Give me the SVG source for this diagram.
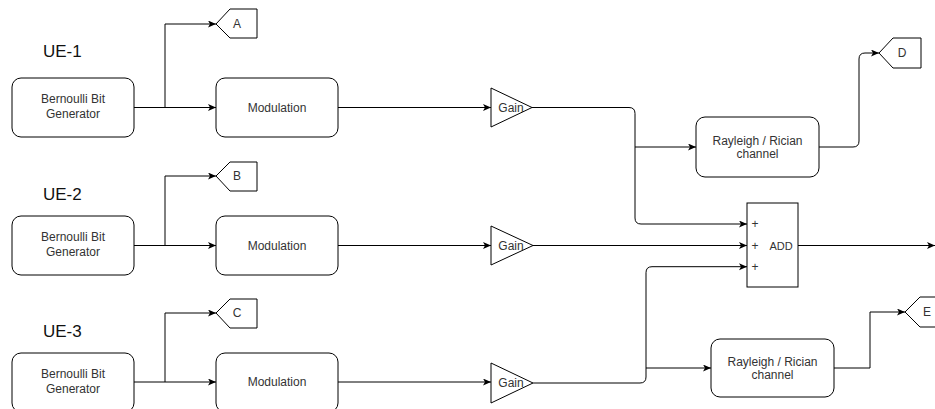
<svg xmlns="http://www.w3.org/2000/svg" width="935" height="409" viewBox="0 0 935 409">
<defs>
<marker id="arr" markerUnits="userSpaceOnUse" markerWidth="9" markerHeight="8" refX="8" refY="3.5" orient="auto">
<path d="M0,0 L8,3.5 L0,7 L2,3.5 z" fill="#000"/>
</marker>
</defs>
<style>
.box{fill:#fff;stroke:#000;stroke-width:1}
.t{font-family:"Liberation Sans",Arial,sans-serif;font-size:12px;fill:#333;text-anchor:middle}
.ue{font-family:"Liberation Sans",Arial,sans-serif;font-size:17px;fill:#111}
.c{fill:none;stroke:#000;stroke-width:1;marker-end:url(#arr)}
.l{fill:none;stroke:#000;stroke-width:1}
</style>
<rect width="935" height="409" fill="#fff"/>
<g id="connectors">
<path class="l" d="M134,107.5 H165"/>
<path class="c" d="M165,107.5 H216"/>
<path class="c" d="M165,107.5 V24 H216"/>
<path class="l" d="M134,245.5 H165"/>
<path class="c" d="M165,245.5 H216"/>
<path class="c" d="M165,245.5 V176 H216"/>
<path class="l" d="M134,382 H165"/>
<path class="c" d="M165,382 H216"/>
<path class="c" d="M165,382 V313 H216"/>
<path class="c" d="M338,107.5 H491"/>
<path class="c" d="M338,245.5 H491"/>
<path class="c" d="M338,382 H491"/>
<path class="c" d="M532,107.5 H629 Q635,107.5 635,113.5 V218 Q635,224 641,224 H747"/>
<path class="c" d="M635,147 H696"/>
<path class="c" d="M533,245.5 H747"/>
<path class="c" d="M533,383 H640 Q646,383 646,377 V272.7 Q646,266.7 652,266.7 H747"/>
<path class="c" d="M646,368 H711"/>
<path class="c" d="M819,147 H853 Q859,147 859,141 V59 Q859,53 865,53 H879"/>
<path class="c" d="M834,368 H870 V312 H905"/>
<path class="c" d="M798,245.5 H935"/>
</g>
<g id="ue1-label"><text class="ue" x="43" y="57">UE-1</text></g>
<g id="ue2-label"><text class="ue" x="43" y="200">UE-2</text></g>
<g id="ue3-label"><text class="ue" x="43" y="337">UE-3</text></g>
<g id="bern1"><rect class="box" x="12" y="78" width="122" height="59" rx="9"/><text class="t" x="73" y="103">Bernoulli Bit</text><text class="t" x="73" y="118">Generator</text></g>
<g id="bern2"><rect class="box" x="12" y="216" width="122" height="59" rx="9"/><text class="t" x="73" y="241">Bernoulli Bit</text><text class="t" x="73" y="256">Generator</text></g>
<g id="bern3"><rect class="box" x="12" y="353" width="122" height="59" rx="9"/><text class="t" x="73" y="378">Bernoulli Bit</text><text class="t" x="73" y="393">Generator</text></g>
<g id="mod1"><rect class="box" x="216" y="78" width="122" height="59" rx="9"/><text class="t" x="277" y="111.5">Modulation</text></g>
<g id="mod2"><rect class="box" x="216" y="216" width="122" height="59" rx="9"/><text class="t" x="277" y="249.5">Modulation</text></g>
<g id="mod3"><rect class="box" x="216" y="353" width="122" height="59" rx="9"/><text class="t" x="277" y="386">Modulation</text></g>
<g id="tagA"><polygon class="box" points="216,24 230,9 257,9 257,38 230,38"/><text class="t" x="237" y="28">A</text></g>
<g id="tagB"><polygon class="box" points="216,176 230,162 257,162 257,191 230,191"/><text class="t" x="237" y="180">B</text></g>
<g id="tagC"><polygon class="box" points="216,313 230,299 257,299 257,328 230,328"/><text class="t" x="237" y="317">C</text></g>
<g id="tagD"><polygon class="box" points="879,53 893,38 921,38 921,68 893,68"/><text class="t" x="902" y="57">D</text></g>
<g id="tagE"><polygon class="box" points="905,312 920,297 940,297 940,327 920,327"/><text class="t" x="927" y="316">E</text></g>
<g id="gain1"><polygon class="box" points="491,88 532,107.5 491,127"/><text class="t" x="511" y="111.5">Gain</text></g>
<g id="gain2"><polygon class="box" points="491,226 533,245.5 491,265"/><text class="t" x="511" y="249.5">Gain</text></g>
<g id="gain3"><polygon class="box" points="491,363 533,383 491,403"/><text class="t" x="511" y="387">Gain</text></g>
<g id="ray1"><rect class="box" x="696" y="117" width="123" height="60" rx="9"/><text class="t" x="757.5" y="145">Rayleigh / Rician</text><text class="t" x="757.5" y="158">channel</text></g>
<g id="ray2"><rect class="box" x="711" y="339" width="123" height="58" rx="9"/><text class="t" x="772.5" y="366">Rayleigh / Rician</text><text class="t" x="772.5" y="379">channel</text></g>
<g id="add"><rect class="box" x="747" y="203" width="51" height="84"/>
<text class="t" x="755" y="228">+</text><text class="t" x="755" y="249.5">+</text><text class="t" x="755" y="270.5">+</text>
<text class="t" x="781" y="250" style="font-size:11px">ADD</text></g>
</svg>
